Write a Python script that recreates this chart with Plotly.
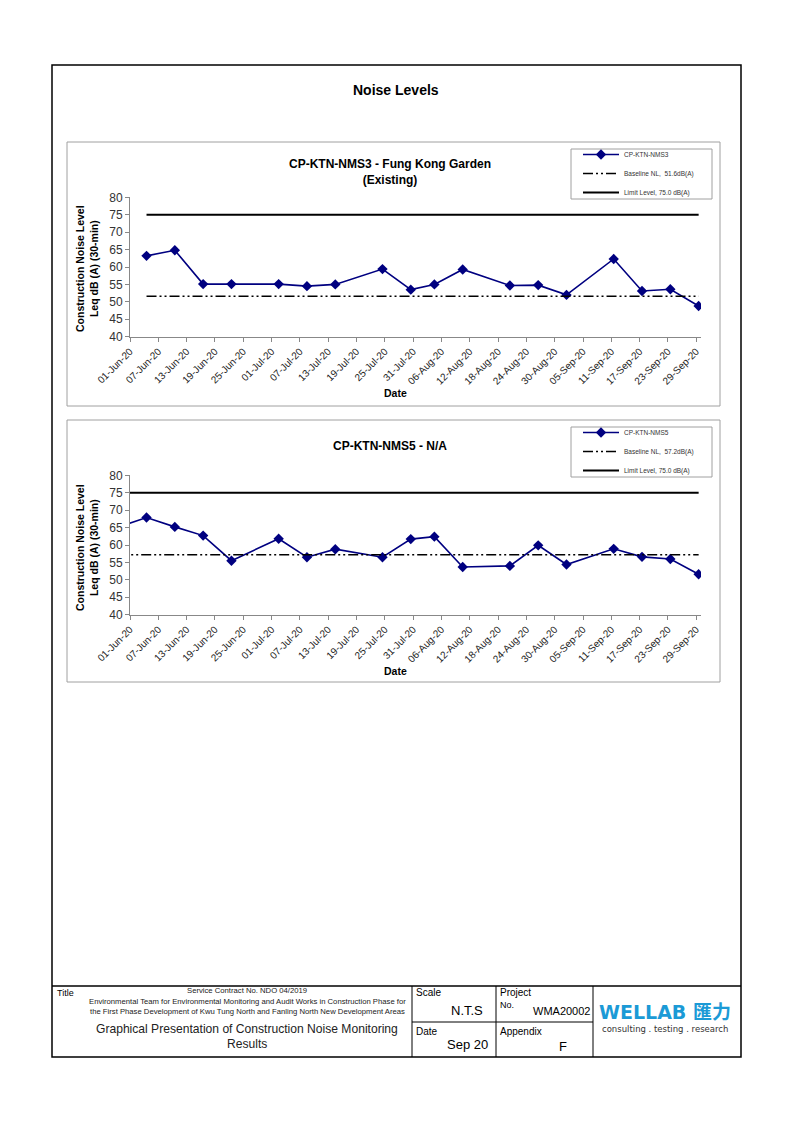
import plotly.graph_objects as go
import pandas as pd

# ---------------- data ----------------
dates_nms3 = ["2020-06-04", "2020-06-10", "2020-06-16", "2020-06-22", "2020-07-02",
              "2020-07-08", "2020-07-14", "2020-07-24", "2020-07-30", "2020-08-04",
              "2020-08-10", "2020-08-20", "2020-08-26", "2020-09-01", "2020-09-11",
              "2020-09-17", "2020-09-23", "2020-09-29"]
leq_nms3 = [63.2, 64.8, 55.1, 55.1, 55.1, 54.5, 55.0, 59.4, 53.5, 55.0,
            59.3, 54.7, 54.8, 52.0, 62.3, 53.1, 53.6, 48.8]

dates_nms5 = ["2020-05-29", "2020-06-04", "2020-06-10", "2020-06-16", "2020-06-22",
              "2020-07-02", "2020-07-08", "2020-07-14", "2020-07-24", "2020-07-30",
              "2020-08-04", "2020-08-10", "2020-08-20", "2020-08-26", "2020-09-01",
              "2020-09-11", "2020-09-17", "2020-09-23", "2020-09-29"]
leq_nms5 = [65.1, 67.9, 65.2, 62.7, 55.5, 61.8, 56.5, 58.8, 56.5, 61.7,
            62.4, 53.7, 54.0, 59.9, 54.4, 58.9, 56.6, 56.0, 51.6]

baseline_nms3 = 51.6
baseline_nms5 = 57.2
limit_level = 75.0

tick_labels = ["01-Jun-20", "07-Jun-20", "13-Jun-20", "19-Jun-20", "25-Jun-20",
               "01-Jul-20", "07-Jul-20", "13-Jul-20", "19-Jul-20", "25-Jul-20",
               "31-Jul-20", "06-Aug-20", "12-Aug-20", "18-Aug-20", "24-Aug-20",
               "30-Aug-20", "05-Sep-20", "11-Sep-20", "17-Sep-20", "23-Sep-20",
               "29-Sep-20"]
y_ticks = [40, 45, 50, 55, 60, 65, 70, 75, 80]

# ---------------- helpers ----------------
W, H = 794, 1123
OFF = 8  # page body margin
def px(x):
    return (x - OFF) / W
def py(y):
    return 1 - (y - OFF) / H

half_day = pd.Timedelta(hours=12)
tick_dates = [pd.to_datetime(t, format="%d-%b-%y") for t in tick_labels]
tick_vals = [d - half_day for d in tick_dates]   # Excel "between tick marks" date axis
x_range = [tick_dates[0] - half_day, tick_dates[-1] + half_day]

NAVY = "#000080"
FONT = "Liberation Sans, Arial, sans-serif"
BASE_DASH = "10px,3px,2px,3px,2px,3px"

fig = go.Figure()

def add_chart(dates, values, baseline, name, xa, ya, legend):
    fig.add_trace(go.Scatter(
        x=dates, y=values, mode="lines+markers", name=name,
        line=dict(color=NAVY, width=1.6),
        marker=dict(symbol="diamond", size=8, color=NAVY),
        xaxis=xa, yaxis=ya, legend=legend))
    fig.add_trace(go.Scatter(
        x=[dates[0], dates[-1]], y=[baseline, baseline], mode="lines",
        name=f"Baseline NL,  {baseline:.1f}dB(A)",
        line=dict(color="black", width=1.6, dash=BASE_DASH),
        xaxis=xa, yaxis=ya, legend=legend))
    fig.add_trace(go.Scatter(
        x=[dates[0], dates[-1]], y=[limit_level, limit_level], mode="lines",
        name=f"Limit Level, {limit_level:.1f} dB(A)",
        line=dict(color="black", width=2),
        xaxis=xa, yaxis=ya, legend=legend))

add_chart(dates_nms3, leq_nms3, baseline_nms3, "CP-KTN-NMS3", "x", "y", "legend")
add_chart(dates_nms5, leq_nms5, baseline_nms5, "CP-KTN-NMS5", "x2", "y2", "legend2")

xaxis_common = dict(
    type="date", range=x_range, tickmode="array", tickvals=tick_vals,
    ticktext=tick_labels, tickangle=-45, ticks="outside", ticklen=4,
    tickcolor="#888888", showline=True, linecolor="#888888", linewidth=1,
    showgrid=False, zeroline=False, automargin=False,
    tickfont=dict(family=FONT, size=10, color="#222222"))
yaxis_common = dict(
    range=[40, 80], tickmode="array", tickvals=y_ticks, ticks="outside",
    ticklen=4, tickcolor="#888888", showline=True, linecolor="#888888",
    linewidth=1, showgrid=False, zeroline=False, automargin=False,
    tickfont=dict(family=FONT, size=12, color="#333333"))

legend_common = dict(
    bgcolor="rgba(0,0,0,0)", borderwidth=0,
    font=dict(family=FONT, size=6.5, color="#333333"),
    xanchor="left", yanchor="top", itemwidth=36, tracegroupgap=0)

fig.update_layout(
    width=W, height=H,
    margin=dict(l=0, r=0, t=0, b=0, pad=0, autoexpand=False),
    paper_bgcolor="white", plot_bgcolor="white", showlegend=True,
    xaxis=dict(domain=[px(130), px(701)], anchor="y", **xaxis_common),
    yaxis=dict(domain=[py(336.7), py(197.3)], anchor="x", **yaxis_common),
    xaxis2=dict(domain=[px(130), px(701)], anchor="y2", **xaxis_common),
    yaxis2=dict(domain=[py(614.7), py(475.3)], anchor="x2", **yaxis_common),
    legend=dict(x=px(578), y=py(140), **legend_common),
    legend2=dict(x=px(578), y=py(418), **legend_common),
)

# ---------------- frame, chart boxes, legend boxes, footer table ----------------
shapes = []
def rect(x0, y0, x1, y1, color="black", width=1):
    shapes.append(dict(type="rect", xref="paper", yref="paper",
                       x0=px(x0), x1=px(x1), y0=py(y1), y1=py(y0),
                       line=dict(color=color, width=width), layer="below"))
def line(x0, y0, x1, y1, color="black", width=1):
    shapes.append(dict(type="line", xref="paper", yref="paper",
                       x0=px(x0), x1=px(x1), y0=py(y0), y1=py(y1),
                       line=dict(color=color, width=width)))

rect(52, 65, 741, 1057, width=1.5)
rect(67, 142, 720, 406, color="#a0a0a0")
rect(67, 420, 720, 682, color="#a0a0a0")
rect(571, 149, 712, 199, color="#a0a0a0")
rect(571, 427, 712, 477, color="#a0a0a0")
line(52, 986, 741, 986, width=1.5)
line(412, 986, 412, 1057)
line(496, 986, 496, 1057)
line(593, 986, 593, 1057)
line(412, 1022, 593, 1022)
fig.update_layout(shapes=shapes)

ann = []
def text(x, y, s, size, bold=False, color="black", xanchor="center",
         yanchor="middle", angle=0, family=FONT):
    ann.append(dict(x=px(x), y=py(y), xref="paper", yref="paper",
                    text=f"<b>{s}</b>" if bold else s, showarrow=False,
                    xanchor=xanchor, yanchor=yanchor, textangle=angle,
                    font=dict(family=family, size=size, color=color)))

text(396, 90, "Noise Levels", 14, bold=True)
text(390, 172, "CP-KTN-NMS3 - Fung Kong Garden<br>(Existing)", 12, bold=True)
text(390, 446, "CP-KTN-NMS5 - N/A", 12, bold=True)
for yc in (269, 548):
    text(87, yc, "Construction Noise Level<br>Leq dB (A) (30-min)", 10.5,
         bold=True, angle=-90)
text(395, 393, "Date", 10.5, bold=True)
text(395, 671, "Date", 10.5, bold=True)

# footer texts
text(55, 993, "Title", 9, xanchor="left")
text(247, 990, "Service Contract No. NDO 04/2019", 7.7, color="#222222")
text(247, 1001, "Environmental Team for Environmental Monitoring and Audit Works in Construction Phase for",
     7.7, color="#222222")
text(247, 1011, "the First Phase Development of Kwu Tung North and Fanling North New Development Areas",
     7.7, color="#222222")
text(247, 1029, "Graphical Presentation of Construction Noise Monitoring", 12.1, color="#222222")
text(247, 1044, "Results", 12.1, color="#222222")
text(414, 992, "Scale", 10, xanchor="left")
text(467, 1010, "N.T.S", 13)
text(414, 1031, "Date", 10, xanchor="left")
text(467, 1044, "Sep 20", 13)
text(498, 992, "Project", 10, xanchor="left")
text(498, 1005, "No.", 9, xanchor="left")
text(592, 1011, "WMA20002", 11, xanchor="right")
text(498, 1031, "Appendix", 10, xanchor="left")
text(563, 1046, "F", 13)
text(665, 1012, "WELLAB 匯力", 19, bold=True, color="#1b9ad6",
     family="DejaVu Sans, Noto Sans CJK SC, sans-serif")
text(665, 1029, "consulting . testing . research", 8.5, color="#333333",
     family="DejaVu Sans, sans-serif")
fig.update_layout(annotations=ann)

fig.write_html("out.html")
